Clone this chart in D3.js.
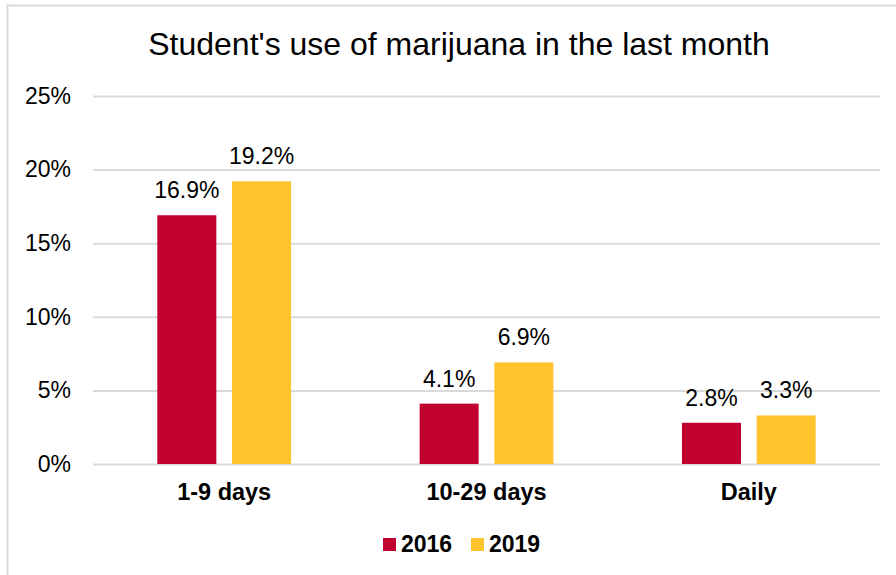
<!DOCTYPE html>
<html>
<head>
<meta charset="utf-8">
<script src="https://cdn.jsdelivr.net/npm/d3@7"></script>
<style>
  html, body { margin: 0; padding: 0; background: #fff; }
  svg { display: block; font-family: Arial, "Liberation Sans", sans-serif; }
</style>
</head>
<body>
<svg id="chart" width="896" height="575"></svg>
<script>
// Share of students using marijuana in the last month, by frequency
const categories = ["1-9 days", "10-29 days", "Daily"];
const seriesNames = ["2016", "2019"];
const values2016 = [16.9, 4.1, 2.8];
const values2019 = [19.2, 6.9, 3.3];
const seriesColors = ["#C0002F", "#FFC42B"];
const yTicks = [0, 5, 10, 15, 20, 25];
const titleText = "Student's use of marijuana in the last month";

const seriesValues = [values2016, values2019];

const svg = d3.select("#chart");
const W = 896, H = 575;
const plot = { left: 93, right: 880, top: 96, bottom: 464 };

// outer frame
svg.append("rect")
  .attr("x", 7.5).attr("y", 5.5)
  .attr("width", W + 10).attr("height", H + 10)
  .attr("fill", "#fff").attr("stroke", "#d9d9d9").attr("stroke-width", 2);

const x0 = d3.scaleBand().domain(categories).range([plot.left, plot.right]);
const x1 = d3.scaleBand().domain(seriesNames)
  .range([64.3, x0.bandwidth() - 64.3]).paddingInner(0.21);
const y = d3.scaleLinear().domain([0, 25]).range([plot.bottom, plot.top]);

// gridlines + y labels
const yAxis = d3.axisLeft(y).tickValues(yTicks)
  .tickSize(-(plot.right - plot.left)).tickPadding(22)
  .tickFormat(d => d + "%");
const gy = svg.append("g").attr("transform", `translate(${plot.left},0)`).call(yAxis);
gy.select(".domain").remove();
gy.selectAll(".tick line").attr("stroke", "#d9d9d9").attr("stroke-width", 2);
gy.selectAll(".tick text")
  .attr("font-size", 23).attr("fill", "#000")
  .attr("font-family", "Arial, 'Liberation Sans', sans-serif");

// bars
const groups = svg.append("g").selectAll("g")
  .data(categories).join("g")
  .attr("transform", d => `translate(${x0(d)},0)`);

groups.selectAll("rect")
  .data((c, i) => seriesNames.map((s, k) => ({ s, k, v: seriesValues[k][i] })))
  .join("rect")
  .attr("x", d => x1(d.s))
  .attr("width", x1.bandwidth())
  .attr("y", d => y(d.v))
  .attr("height", d => y(0) - y(d.v))
  .attr("fill", d => seriesColors[d.k]);

groups.selectAll("text.val")
  .data((c, i) => seriesNames.map((s, k) => ({ s, k, v: seriesValues[k][i] })))
  .join("text")
  .attr("class", "val")
  .attr("x", d => x1(d.s) + x1.bandwidth() / 2)
  .attr("y", d => y(d.v) - 17)
  .attr("text-anchor", "middle")
  .attr("font-size", 23)
  .attr("fill", "#000")
  .text(d => d.v.toFixed(1) + "%");

// category labels
const xAxis = d3.axisBottom(x0).tickSize(0).tickPadding(0);
const gx = svg.append("g").attr("transform", `translate(0,${plot.bottom})`).call(xAxis);
gx.select(".domain").remove();
gx.selectAll(".tick text")
  .attr("dy", 0).attr("y", 36)
  .attr("font-size", 23.5).attr("font-weight", "bold").attr("fill", "#000")
  .attr("font-family", "Arial, 'Liberation Sans', sans-serif");

// title
svg.append("text")
  .attr("x", 459).attr("y", 55)
  .attr("text-anchor", "middle")
  .attr("font-size", 32)
  .attr("fill", "#000")
  .text(titleText);

// legend
const legendX = [383, 471];
const legend = svg.append("g").selectAll("g")
  .data(seriesNames).join("g")
  .attr("transform", (d, i) => `translate(${legendX[i]},538)`);
legend.append("rect").attr("width", 13).attr("height", 13)
  .attr("fill", (d, i) => seriesColors[i]);
legend.append("text").attr("x", 18).attr("y", 13.5)
  .attr("font-size", 23).attr("font-weight", "bold").attr("fill", "#000")
  .text(d => d);
</script>
</body>
</html>
